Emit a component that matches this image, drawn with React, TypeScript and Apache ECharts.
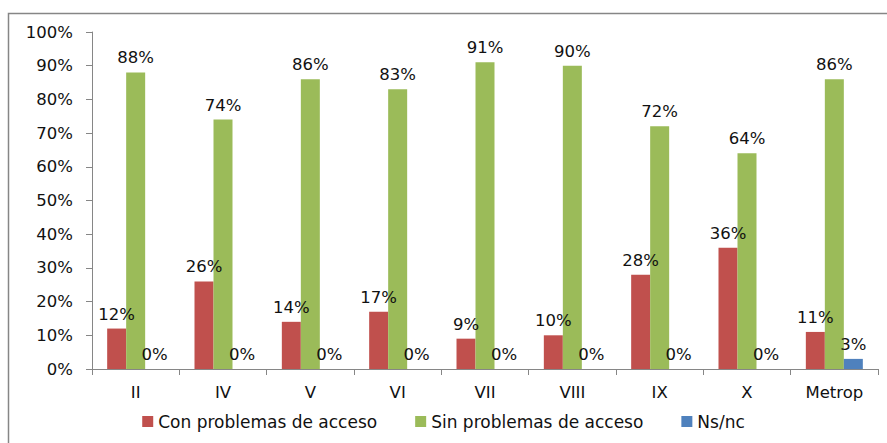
import React, { useEffect, useRef } from "react";
import * as echarts from "echarts";

const categories = ["II", "IV", "V", "VI", "VII", "VIII", "IX", "X", "Metrop"];
const conProblemas = [12, 26, 14, 17, 9, 10, 28, 36, 11];
const sinProblemas = [88, 74, 86, 83, 91, 90, 72, 64, 86];
const nsnc = [0, 0, 0, 0, 0, 0, 0, 0, 3];
const yTicks = [0, 10, 20, 30, 40, 50, 60, 70, 80, 90, 100];

const FONT = "DejaVu Sans";
const FS = 16.5;

export default function App() {
  const ref = useRef<HTMLDivElement>(null);
  useEffect(() => {
    document.body.style.margin = "0";
    const chart = echarts.init(ref.current!, null, { renderer: "svg" });
    const label = {
      show: true,
      position: "top",
      distance: 6,
      formatter: "{c}%",
      color: "#111",
      fontFamily: FONT,
      fontSize: FS,
    };
    chart.setOption({
      animation: false,
      backgroundColor: "#fff",
      textStyle: { fontFamily: FONT },
      graphic: [
        {
          type: "rect",
          shape: { x: 8.5, y: 13.5, width: 1000, height: 1000 },
          style: { fill: "none", stroke: "#868686", lineWidth: 1.5 },
          silent: true,
        },
      ],
      grid: { left: 92, right: 9, top: 32, bottom: 74, containLabel: false },
      legend: {
        bottom: 8,
        left: "center",
        itemWidth: 11,
        itemHeight: 11,
        itemGap: 38,
        icon: "rect",
        textStyle: { fontFamily: FONT, fontSize: 17, color: "#111" },
        data: ["Con problemas de acceso", "Sin problemas de acceso", "Ns/nc"],
      },
      xAxis: {
        type: "category",
        data: categories,
        axisLine: { lineStyle: { color: "#868686" } },
        axisTick: { show: true, length: 6, lineStyle: { color: "#868686" } },
        axisLabel: { color: "#111", fontFamily: FONT, fontSize: FS, margin: 15 },
      },
      yAxis: {
        type: "value",
        min: yTicks[0],
        max: yTicks[yTicks.length - 1],
        interval: 10,
        splitLine: { show: false },
        axisLine: { show: true, lineStyle: { color: "#868686" } },
        axisTick: { show: true, length: 6, lineStyle: { color: "#868686" } },
        axisLabel: { color: "#111", fontFamily: FONT, fontSize: FS, margin: 19, formatter: "{value}%" },
      },
      series: [
        {
          name: "Con problemas de acceso",
          type: "bar",
          data: conProblemas,
          barWidth: 19,
          barGap: "0%",
          itemStyle: { color: "#C0504D" },
          label,
        },
        {
          name: "Sin problemas de acceso",
          type: "bar",
          data: sinProblemas,
          barWidth: 19,
          barGap: "0%",
          itemStyle: { color: "#9BBB59" },
          label,
        },
        {
          name: "Ns/nc",
          type: "bar",
          data: nsnc,
          barWidth: 19,
          barGap: "0%",
          itemStyle: { color: "#4F81BD" },
          label,
        },
      ],
    });
    return () => chart.dispose();
  }, []);
  return <div ref={ref} style={{ width: 887, height: 443 }} />;
}
